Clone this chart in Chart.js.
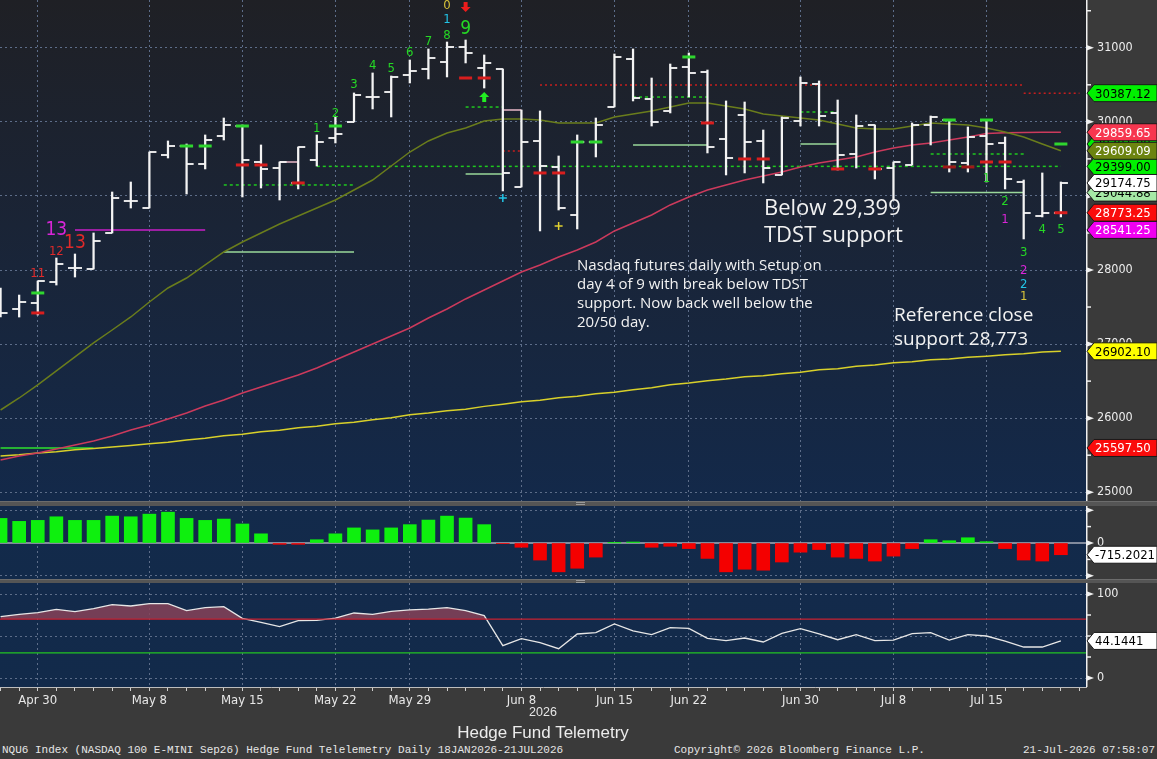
<!DOCTYPE html>
<html><head><meta charset="utf-8">
<script src="https://cdn.jsdelivr.net/npm/chart.js@4.4.1/dist/chart.umd.min.js"></script>
<style>
html,body{margin:0;padding:0;}
body{width:1157px;height:759px;background:#3a3a3a;position:relative;overflow:hidden;}
canvas{position:absolute;left:0;display:block;}
.t{position:absolute;white-space:nowrap;color:#f2f2f2;}
.sep{position:absolute;left:0;width:1157px;background:#555;border-top:1px solid #6c6c6c;}
.h{position:absolute;left:576px;width:9px;height:1px;background:#9a9a9a;}
</style></head><body>
<canvas id="cMain" width="1157" height="501" style="top:0"></canvas>
<div class="sep" style="top:501px;height:4px"></div>
<div class="h" style="top:502px"></div><div class="h" style="top:504px"></div>
<canvas id="cHist" width="1157" height="73" style="top:506px"></canvas>
<div class="sep" style="top:579px;height:3px"></div>
<div class="h" style="top:580px"></div><div class="h" style="top:582px"></div>
<canvas id="cRsi" width="1157" height="125" style="top:583px"></canvas>
<div class="t" style="left:764px;top:193px;font:22px/27px 'Open Sans'">Below 29,399<br>TDST support</div>
<div class="t" style="left:577px;top:255px;font:15px/19px 'Open Sans'">Nasdaq futures daily with Setup on<br>day 4 of 9 with break below TDST<br>support. Now back well below the<br>20/50 day.</div>
<div class="t" style="left:894px;top:302px;font:19px/24px 'Open Sans'">Reference close<br>support 28,773</div>
<div class="t" style="left:443px;width:200px;text-align:center;top:706px;font:12.5px/12.5px 'Liberation Sans';color:#e6e6e6">2026</div>
<div class="t" style="left:393px;width:300px;text-align:center;top:724px;font:17px/17px 'Liberation Sans';color:#ececec">Hedge Fund Telemetry</div>
<div class="t" style="left:2px;top:745px;font:11px/11px 'Liberation Mono';color:#e6e6e6">NQU6 Index (NASDAQ 100 E-MINI Sep26) Hedge Fund Telelemetry Daily 18JAN2026-21JUL2026</div>
<div class="t" style="left:674px;top:745px;font:11px/11px 'Liberation Mono';color:#e6e6e6">Copyright&copy; 2026 Bloomberg Finance L.P.</div>
<div class="t" style="right:2px;top:745px;font:11px/11px 'Liberation Mono';color:#e6e6e6">21-Jul-2026 07:58:07</div>
<script>
// ---------------- DATA ----------------
const tickIdx = [2, 8, 13, 18, 22, 28, 33, 37, 43, 48, 53];
const tickLabels = ['Apr 30','May 8','May 15','May 22','May 29','Jun 8','Jun 15','Jun 22','Jun 30','Jul 8','Jul 15'];

const opens  = [27595,27474,27554,27838,28027,28013,28500,28932,28837,29553,29674,29431,29809,29944,29458,29377,29175,29485,29782,29998,30336,30403,30633,30714,30808,31011,30727,30714,29121,29742,29391,28743,29728,30201,30849,30309,30147,30741,30673,29769,30093,29742,29283,30012,30511,30120,29566,29958,29377,29418,29958,30025,29445,29809,29715,29188,28729,28770];
const highs  = [27757,27662,27851,28162,28216,28500,29053,29188,29593,29742,29701,29823,30052,29958,29688,29458,29661,29823,30066,30390,30660,30619,30835,30984,31078,31105,30903,30714,30160,30147,29539,29823,30052,30916,30984,30592,30781,30930,30700,30282,30268,29890,30066,30606,30552,30295,30093,29958,29458,29985,30079,30025,29931,30025,29796,29215,29310,29188];
const lows   = [27365,27365,27392,27797,27905,28013,28500,28837,28837,29512,29026,29364,29755,28986,29107,28945,29094,29404,29715,29998,30174,30066,30525,30579,30606,30795,30457,29067,29121,28527,28810,28554,29526,30201,30282,29944,30120,30336,29580,29283,29310,29175,29283,29944,29944,29350,29377,29229,28945,29418,29688,29323,29323,29188,29094,28419,28716,28716];
const closes = [27420,27568,27851,28081,28027,28392,28972,28932,29593,29674,29431,29755,29958,29485,29364,29458,29661,29728,29836,30363,30336,30606,30687,30862,31011,30930,30795,29310,29728,29404,28837,29728,29958,30876,30322,29998,30727,30660,29661,29512,29728,29377,30052,30525,30079,29553,29944,29364,29458,29958,30066,29458,29796,29701,29229,28773.25,28770,29174.75];

const ma20  = [26110,26272,26448,26637,26826,27015,27190,27366,27568,27757,27892,28068,28243,28378,28500,28621,28729,28837,28945,29080,29215,29404,29593,29742,29850,29917,30012,30039,30039,30025,29985,29985,29985,30066,30106,30147,30201,30255,30255,30214,30174,30106,30079,30052,30025,29971,29917,29904,29904,29944,29985,29971,29958,29917,29863,29796,29701,29609.09];
const ma50  = [25435,25489,25530,25584,25638,25692,25759,25840,25908,25989,26070,26164,26245,26340,26421,26502,26583,26677,26785,26893,27001,27109,27217,27352,27474,27609,27730,27852,27973,28068,28176,28270,28378,28527,28635,28743,28878,28986,29080,29148,29215,29269,29323,29391,29445,29485,29526,29593,29647,29688,29715,29755,29796,29842,29852,29856,29858,29859.65];
const ma200 = [25489,25507,25531,25548,25572,25589,25612,25630,25653,25676,25706,25730,25761,25784,25815,25838,25869,25892,25923,25946,25978,26006,26045,26068,26099,26121,26159,26188,26220,26243,26275,26297,26328,26351,26383,26411,26450,26473,26504,26527,26558,26574,26599,26621,26652,26668,26699,26716,26747,26763,26787,26797,26821,26837,26855,26871,26894,26902.10];

const histValues = [1500,1320,1380,1600,1380,1380,1640,1600,1760,1880,1500,1380,1460,1160,560,-80,-80,200,560,920,800,920,1120,1400,1640,1520,1120,-20,-260,-1040,-1760,-1540,-860,10,60,-260,-200,-340,-940,-1760,-1600,-1660,-1160,-560,-400,-860,-940,-1100,-800,-340,200,140,320,80,-340,-1040,-1100,-715.2021];
const rsiValues = [73.0,75.8,77.8,81.8,79.0,82.5,87.3,85.7,88.5,88.5,80.2,83.7,84.9,71.0,66.3,61.1,68.3,68.6,71.4,77.4,75.8,79.4,81.0,82.1,83.7,80.2,74.2,38.5,46.8,42.1,34.9,52.4,54.0,64.3,56.0,51.6,60.0,59.1,47.2,44.4,47.6,42.9,53.2,58.7,52.4,45.6,51.6,44.4,45.2,52.8,54.0,45.2,51.6,50.0,44.0,36.9,36.9,44.1441];
const rsiUpper = 70, rsiLower = 30;

const levelStart = [4, 12, 12, 17, 25, 25, 29, 55, 34, 34, 43, 43, 50, 50, 0, 27, 27, 15];
const levelEnd   = [11, 19, 19, 57, 27, 27, 55, 58, 38, 38, 45, 45, 55, 55, 5, 28, 28, 16];
const levelPrice = [28541.25, 28243, 29148, 29399, 30200, 29296, 30497, 30387.12, 30335, 29688, 30133, 29701, 29566, 29044.88, 25597.5, 30160, 29607, 29458];
const levelKind  = ['magenta','ltgreen','gdot','gdot','gdot','ltgreen','rdot','rdot','gdot','ltgreen','gdot','ltgreen','gdot','ltgreen','green','pink','rdot','pink'];

const buyIdx   = [2, 10, 11, 13, 18, 31, 32, 37, 51, 53, 57];
const buyPrice = [27690, 29674, 29674, 29944, 29944, 29728, 29728, 30876, 30025, 30025, 29701];
const sellIdx   = [2, 13, 14, 16, 25, 26, 29, 30, 38, 40, 41, 45, 47, 53, 54, 57];
const sellPrice = [27420, 29418, 29418, 29175, 30592, 30592, 29310, 29310, 29985, 29499, 29499, 29364, 29364, 29458, 29458, 28773.25];
const darkSellIdx   = [51, 52];
const darkSellPrice = [29391, 29391];

const tdIdx   = [2, 3, 4, 3, 17, 18, 19, 20, 21, 22, 23, 24, 24, 24, 25, 53, 54, 54, 55, 55, 55, 55, 56, 57];
const tdPrice = [27905, 28202, 28297, 28472, 29863, 30065, 30457, 30713, 30673, 30889, 31037, 31118, 31334, 31523, 31186, 29188, 28877, 28634, 28189, 27946, 27757, 27595, 28499, 28499];
const tdText  = ['11','12','13','13','1','2','3','4','5','6','7','8','1','0','9','1','2','1','3','2','2','1','4','5'];
const tdKind  = ['r','r','rBig','mBig','g','g','g','g','g','g','g','g','c','y','gBig','g','g','m','g','m','c','y','g','g'];

const arrowIdx = [25, 26];
const arrowPrice = [31550, 30335];
const arrowDir = ['down', 'up'];
const crossIdx = [27, 30];
const crossPrice = [28972, 28594];
const crossKind = ['c', 'y'];

const priceTicks = [25000, 26000, 27000, 28000, 29000, 30000, 31000];
const priceMinor = [25500, 26500, 27500, 28500, 29500, 30500, 31500];
const tagValue = [29701.00, 29399.00, 29044.88, 29859.65, 29609.09, 29174.75, 28773.25, 28541.25, 30387.12, 26902.10, 25597.50];
const tagKind  = ['green','green','ltgreen','pink','olive','white','red','magenta','green','yellow','red'];
const histTicks = [-2000, -1000, 0, 1000, 2000];
const histTag = -715.2021;
const rsiTicks = [0, 25, 50, 75, 100];
const rsiTag = 44.1441;

// ---------------- STYLE ----------------
const NARROW = "'DejaVu Sans Condensed','DejaVu Sans',sans-serif";
const GRID = '#5d6d89';
const xMin = -0.03, xMax = 58.35;
const TD_STYLE = {g:{c:'#25d825',s:13}, gBig:{c:'#25d825',s:19}, r:{c:'#e02a2a',s:13}, rBig:{c:'#e02a2a',s:19},
  mBig:{c:'#d825d8',s:19}, m:{c:'#d825d8',s:13}, c:{c:'#22c4e6',s:13}, y:{c:'#d6c23a',s:13}};
const LEVEL_STYLE = {magenta:{c:'#c81ec8',d:[]}, ltgreen:{c:'#9ad89a',d:[]}, gdot:{c:'#1fc81f',d:[3,3]},
  rdot:{c:'#c81e1e',d:[2,3]}, green:{c:'#2ee02e',d:[]}, pink:{c:'#e8b8c8',d:[]}};
const TAG_STYLE = {green:{bg:'#00f000',fg:'#000'}, ltgreen:{bg:'#a6e9a6',fg:'#000'}, pink:{bg:'#f7364f',fg:'#fff'},
  olive:{bg:'#6c8410',fg:'#fff'}, white:{bg:'#ffffff',fg:'#000'}, red:{bg:'#fa0c0c',fg:'#fff'},
  magenta:{bg:'#f000f0',fg:'#fff'}, yellow:{bg:'#ffff00',fg:'#000'}};
const CROSS_COLOR = {c:'#22c4e6', y:'#e0d030'};
const AXIS_FONT = {family: NARROW, size: 12.5};

function zeroPad(s){ s.paddingTop = 0; s.paddingBottom = 0; s.paddingLeft = 0; s.paddingRight = 0; }

function makeTick(side){
  const c = document.createElement('canvas'); c.width = 16; c.height = 2;
  const g = c.getContext('2d'); g.fillStyle = 'rgba(244,244,244,0.92)';
  g.fillRect(side < 0 ? 1 : 8, 0, 7, 2); return c;
}

function drawTag(ctx, xL, yP, text, bg, fg){
  const h = 17, tip = 7, xR = 1157;
  ctx.beginPath(); ctx.moveTo(xL, yP); ctx.lineTo(xL + tip, yP - h/2); ctx.lineTo(xR, yP - h/2);
  ctx.lineTo(xR, yP + h/2); ctx.lineTo(xL + tip, yP + h/2); ctx.closePath();
  ctx.fillStyle = bg; ctx.fill(); ctx.lineWidth = 1; ctx.strokeStyle = '#1a1a1a'; ctx.stroke();
  ctx.fillStyle = fg; ctx.font = '13px ' + NARROW; ctx.textAlign = 'left'; ctx.textBaseline = 'middle';
  ctx.fillText(text, xL + 8, yP + 1);
}

function makeDecor(cfg){
  return {
    id: 'decor',
    beforeDraw(chart){
      const {ctx, chartArea: a} = chart;
      const g = ctx.createLinearGradient(0, a.top, 0, a.bottom);
      cfg.bg.forEach(([s, c]) => g.addColorStop(s, c));
      ctx.save(); ctx.fillStyle = g; ctx.fillRect(a.left, a.top, a.right - a.left, a.bottom - a.top); ctx.restore();
    },
    afterDraw(chart){
      const {ctx, chartArea: a, scales: {y}} = chart;
      ctx.save();
      ctx.strokeStyle = '#f0f0f0'; ctx.lineWidth = 1.5;
      ctx.beginPath(); ctx.moveTo(a.right + 0.75, a.top); ctx.lineTo(a.right + 0.75, a.bottom); ctx.stroke();
      ctx.fillStyle = '#f0f0f0';
      cfg.major.forEach(v => { const p = y.getPixelForValue(v); ctx.beginPath(); ctx.moveTo(a.right, p - 3); ctx.lineTo(a.right + 8, p); ctx.lineTo(a.right, p + 3); ctx.closePath(); ctx.fill(); });
      cfg.minor.forEach(v => { const p = y.getPixelForValue(v); ctx.beginPath(); ctx.moveTo(a.right, p); ctx.lineTo(a.right + 5, p); ctx.stroke(); });
      cfg.tags.forEach(t => { const st = TAG_STYLE[t.k]; drawTag(ctx, a.right + 1, y.getPixelForValue(t.v), t.text, st.bg, st.fg); });
      ctx.restore();
    }
  };
}

function drawArrow(ctx, x, y, dir, color){
  const s = dir === 'up' ? -1 : 1;
  ctx.fillStyle = color;
  ctx.fillRect(x - 2, dir === 'up' ? y : y - 5, 4, 5);
  ctx.beginPath(); ctx.moveTo(x - 5, y); ctx.lineTo(x + 5, y); ctx.lineTo(x, y + 5 * s); ctx.closePath(); ctx.fill();
}

const tdPlugin = {
  id: 'td',
  afterDatasetsDraw(chart){
    const {ctx, scales: {x, y}} = chart;
    ctx.save(); ctx.textAlign = 'center'; ctx.textBaseline = 'alphabetic';
    tdIdx.forEach((i, k) => {
      const st = TD_STYLE[tdKind[k]];
      ctx.font = st.s + 'px ' + NARROW; ctx.fillStyle = st.c;
      ctx.fillText(tdText[k], x.getPixelForValue(i), y.getPixelForValue(tdPrice[k]));
    });
    arrowIdx.forEach((i, k) => drawArrow(ctx, x.getPixelForValue(i), y.getPixelForValue(arrowPrice[k]), arrowDir[k], arrowDir[k] === 'up' ? '#22ee22' : '#ee1c1c'));
    ctx.restore();
  }
};

Chart.defaults.font.family = NARROW;
Chart.defaults.animation = false;
Chart.defaults.events = [];
Chart.defaults.plugins.legend.display = false;
Chart.defaults.plugins.tooltip.enabled = false;

const idx = opens.map((_, i) => i);
const pts = (arrI, arrV) => arrI.map((i, k) => ({x: i, y: arrV[k]}));

function xScale(extra){
  return Object.assign({type:'linear', min:xMin, max:xMax, offset:false,
    afterBuildTicks: s => { s.ticks = tickIdx.map(v => ({value:v})); },
    afterFit: s => { s.height = 0; zeroPad(s); },
    ticks:{display:false}, grid:{color:GRID, drawTicks:false, lineWidth:1, offset:false}, border:{display:false, dash:[2,3]}}, extra || {});
}

// ---------------- MAIN ----------------
const mainDatasets = [
  {type:'scatter', data: pts(buyIdx, buyPrice), pointStyle:'line', pointRadius:6.5, pointHoverRadius:0, pointBorderWidth:3, borderColor:'#2fd62f', pointBorderColor:'#2fd62f', order:0},
  {type:'scatter', data: pts(sellIdx, sellPrice), pointStyle:'line', pointRadius:6.5, pointHoverRadius:0, pointBorderWidth:3, borderColor:'#d81e1e', pointBorderColor:'#d81e1e', order:0},
  {type:'scatter', data: pts(darkSellIdx, darkSellPrice), pointStyle:'line', pointRadius:6.5, pointHoverRadius:0, pointBorderWidth:3, borderColor:'#a01818', pointBorderColor:'#a01818', order:0},
  {type:'scatter', data: pts(crossIdx, crossPrice), pointStyle:'cross', pointRadius:4, pointBorderWidth:1.5, pointBorderColor: crossKind.map(k => CROSS_COLOR[k]), order:0},
  {type:'scatter', data: idx.map(i => ({x:i, y:opens[i]})), pointStyle: makeTick(-1), pointRadius:3, order:1},
  {type:'scatter', data: idx.map(i => ({x:i, y:closes[i]})), pointStyle: makeTick(1), pointRadius:3, order:1},
  {type:'bar', data: idx.map(i => ({x:i, y:[lows[i], highs[i]]})), barThickness:1.6, backgroundColor:'#f4f4f4', borderWidth:0, grouped:false, order:1},
  {type:'line', data: idx.map(i => ({x:i, y:ma20[i]})), borderColor:'#6a7d1c', borderWidth:1.5, pointRadius:0, order:2},
  {type:'line', data: idx.map(i => ({x:i, y:ma50[i]})), borderColor:'#cc3a5c', borderWidth:1.5, pointRadius:0, order:2},
  {type:'line', data: idx.map(i => ({x:i, y:ma200[i]})), borderColor:'#d8d02a', borderWidth:1.5, pointRadius:0, order:2}
];
levelStart.forEach((s, k) => {
  const st = LEVEL_STYLE[levelKind[k]];
  mainDatasets.push({type:'line', data:[{x:s, y:levelPrice[k]}, {x:levelEnd[k], y:levelPrice[k]}],
    borderColor: st.c, borderDash: st.d, borderWidth:1.5, pointRadius:0, order:3});
});

new Chart(document.getElementById('cMain'), {
  type: 'scatter',
  data: {datasets: mainDatasets},
  options: {
    responsive:false, layout:{padding:0, autoPadding:false},
    scales: {
      x: xScale(),
      y: {type:'linear', position:'right', min:24881.5, max:31645,
        afterBuildTicks: s => { s.ticks = priceTicks.map(v => ({value:v})); },
        afterFit: s => { s.width = 71; zeroPad(s); },
        ticks:{color:'#ececec', font:AXIS_FONT, padding:11, autoSkip:false, callback: v => String(v)},
        grid:{color:GRID, drawTicks:false, lineWidth:1}, border:{display:false, dash:[2,3]}}
    }
  },
  plugins: [makeDecor({bg:[[0,'#1f2025'],[0.45,'#1a2436'],[1,'#13294a']], major: priceTicks, minor: priceMinor,
    tags: tagValue.map((v, k) => ({v, k: tagKind[k], text: v.toFixed(2)}))}), tdPlugin]
});

// ---------------- HISTOGRAM ----------------
new Chart(document.getElementById('cHist'), {
  type: 'bar',
  data: {datasets: [
    {type:'bar', data: idx.map(i => ({x:i, y:histValues[i]})), backgroundColor: histValues.map(v => v >= 0 ? '#0ef00e' : '#f40000'), barThickness:13, grouped:false, order:0},
    {type:'line', data:[{x:xMin, y:0}, {x:xMax, y:0}], borderColor:'#a8adb8', borderWidth:1.5, pointRadius:0, order:1}
  ]},
  options: {
    responsive:false, layout:{padding:0, autoPadding:false},
    scales: {
      x: xScale(),
      y: {type:'linear', position:'right', min:-2196, max:2257,
        afterBuildTicks: s => { s.ticks = histTicks.map(v => ({value:v})); },
        afterFit: s => { s.width = 71; zeroPad(s); },
        ticks:{color:'#ececec', font:AXIS_FONT, padding:11, autoSkip:false, callback: v => v === 0 ? '0' : ''},
        grid:{color: c => (c.tick && Math.abs(c.tick.value) === 2000) ? GRID : 'rgba(0,0,0,0)', drawTicks:false}, border:{display:false, dash:[2,3]}}
    }
  },
  plugins: [makeDecor({bg:[[0,'#132a4b'],[1,'#122a4a']], major:[-2000, 0, 2000], minor:[-1000, 1000],
    tags:[{v: histTag, k:'white', text: histTag.toFixed(4)}]})]
});

// ---------------- RSI ----------------
new Chart(document.getElementById('cRsi'), {
  type: 'line',
  data: {datasets: [
    {data:[{x:xMin, y:rsiUpper}, {x:xMax, y:rsiUpper}], borderColor:'#c42030', borderWidth:1.3, pointRadius:0, order:0},
    {data: idx.map(i => ({x:i, y:rsiValues[i]})), borderColor:'#e6e6e6', borderWidth:1.3, pointRadius:0,
      fill:{target:{value:rsiUpper}, above:'rgba(135,66,88,0.85)', below:'rgba(0,0,0,0)'}, order:1},
    {data:[{x:xMin, y:rsiLower}, {x:xMax, y:rsiLower}], borderColor:'#22c422', borderWidth:1.3, pointRadius:0, order:2}
  ]},
  options: {
    responsive:false, layout:{padding:0, autoPadding:false},
    scales: {
      x: xScale({
        afterBuildTicks: s => { s.ticks = Array.from({length:59}, (_, i) => ({value:i})); },
        afterFit: s => { s.height = 21; zeroPad(s); },
        ticks:{color:'#e8e8e8', font:{family:NARROW, size:13}, padding:2, autoSkip:false, maxRotation:0,
          callback: v => { const k = tickIdx.indexOf(v); return k >= 0 ? tickLabels[k] : ''; }},
        grid:{color: c => (c.tick && tickIdx.includes(c.tick.value)) ? GRID : 'rgba(0,0,0,0)', drawTicks:true, tickLength:4, tickColor:'#cfcfcf', tickWidth:1, offset:false},
        border:{display:true, color:'#bdbdbd', width:1, dash:[2,3]}}),
      y: {type:'linear', position:'right', min:-10.7, max:113.1,
        afterBuildTicks: s => { s.ticks = rsiTicks.map(v => ({value:v})); },
        afterFit: s => { s.width = 71; zeroPad(s); },
        ticks:{color:'#ececec', font:AXIS_FONT, padding:11, autoSkip:false, callback: v => (v === 0 || v === 100) ? String(v) : ''},
        grid:{color: c => (c.tick && c.tick.value % 50 === 0) ? GRID : 'rgba(0,0,0,0)', drawTicks:false}, border:{display:false, dash:[2,3]}}
    }
  },
  plugins: [makeDecor({bg:[[0,'#132a4b'],[1,'#122a4a']], major:[0, 100], minor:[25, 50, 75],
    tags:[{v: rsiTag, k:'white', text: rsiTag.toFixed(4)}]})]
});
</script>
</body></html>
